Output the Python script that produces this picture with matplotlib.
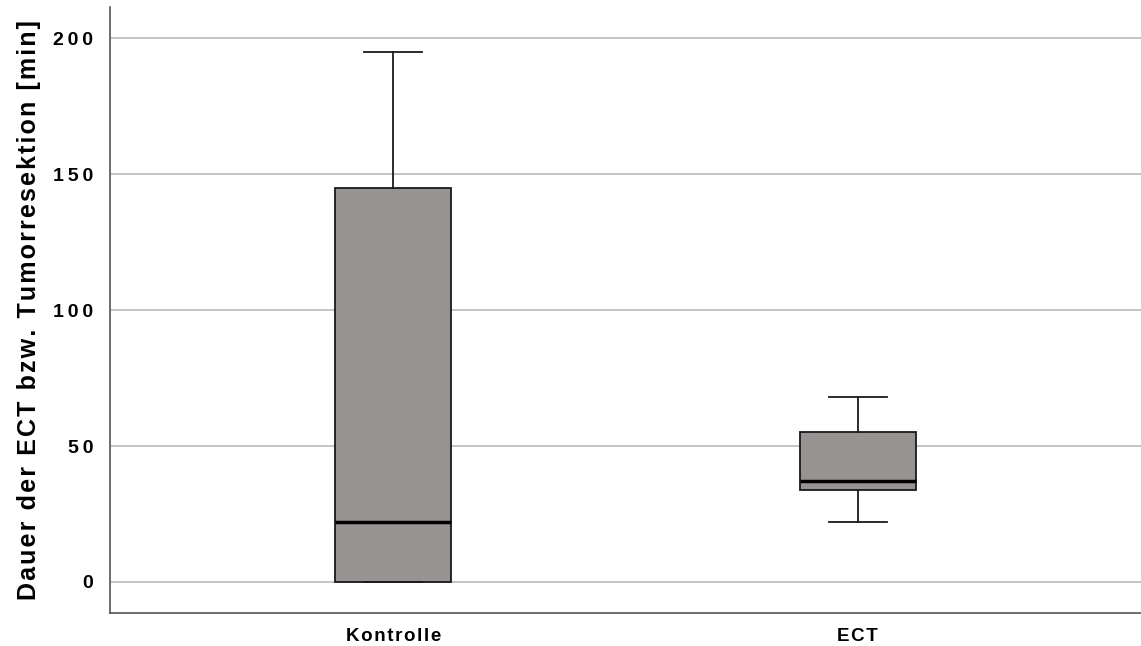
import matplotlib
matplotlib.use("Agg")
import matplotlib.pyplot as plt

# box statistics (minutes)
groups = ["Kontrolle", "ECT"]
whisker_low = [0, 22]
q1 = [0, 34]
median = [22, 37]
q3 = [145, 55]
whisker_high = [195, 68]
y_ticks = [0, 50, 100, 150, 200]
y_title = "Dauer der ECT bzw. Tumorresektion [min]"

plt.rcParams['font.family'] = ['Liberation Sans', 'DejaVu Sans']

THIN = "\u2009"
HAIR = "\u200a"


def spaced(s, sep, word_sep=" "):
    # fake letter spacing (the original uses tracked text)
    return word_sep.join(sep.join(w) for w in s.split(" "))


stats = []
for i, g in enumerate(groups):
    stats.append(dict(label=spaced(g, HAIR), whislo=whisker_low[i], q1=q1[i],
                      med=median[i], q3=q3[i], whishi=whisker_high[i], fliers=[]))

fig = plt.figure(figsize=(11.41, 6.46), dpi=100)
ax = fig.add_axes([0.0964, 0.0511, 0.9036, 0.938])

ax.bxp(stats, positions=[0, 1], widths=0.25, patch_artist=True, showfliers=False,
       boxprops=dict(facecolor='#979392', edgecolor='#1a1a1a', linewidth=1.3),
       medianprops=dict(color='black', linewidth=2.5),
       whiskerprops=dict(color='#1a1a1a', linewidth=1.3),
       capprops=dict(color='#1a1a1a', linewidth=1.3),
       capwidths=0.125, zorder=3)

ax.set_xlim(-0.61, 1.61)
ax.set_ylim(-11.4, 211.4)
ax.set_yticks(y_ticks)
ax.set_yticklabels([spaced(str(v), THIN) for v in y_ticks])
ax.yaxis.grid(True, color='#b4b4b4', linewidth=1.1, zorder=0)
ax.set_axisbelow(True)

for s in ['top', 'right']:
    ax.spines[s].set_visible(False)
for s in ['left', 'bottom']:
    ax.spines[s].set_color('#555555')
    ax.spines[s].set_linewidth(1.2)

ax.tick_params(axis='both', length=0)
ax.tick_params(axis='y', pad=12)
ax.tick_params(axis='x', pad=11)
for lbl in ax.get_yticklabels():
    lbl.set_fontsize(14)
    lbl.set_fontweight('bold')
for lbl in ax.get_xticklabels():
    lbl.set_fontsize(13.5)
    lbl.set_fontweight('bold')

ax.set_ylabel(spaced(y_title, HAIR, HAIR + " " + HAIR), fontsize=18,
              fontweight='bold', labelpad=9)

plt.savefig("out.png", dpi=100)
